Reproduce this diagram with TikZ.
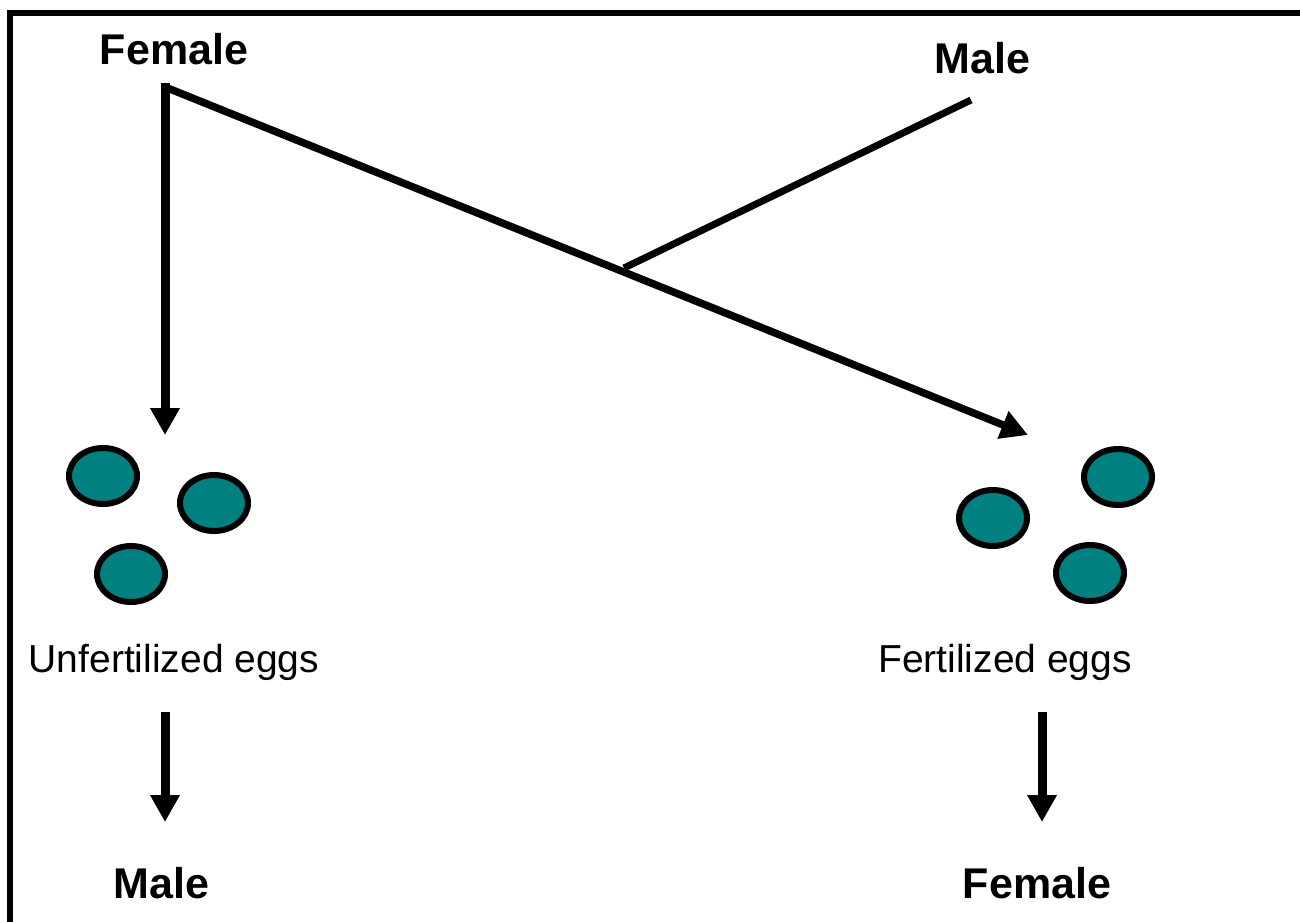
\documentclass[tikz,border=0pt]{standalone}
\usepackage{fontspec}
\setmainfont{Liberation Sans}
\usetikzlibrary{arrows.meta}
\definecolor{eggteal}{HTML}{008080}
\tikzset{
  lbl/.style={anchor=base, inner sep=0pt, font=\fontsize{39}{47}\selectfont},
  blbl/.style={lbl, font=\fontsize{43}{52}\selectfont\bfseries},
  conn/.style={line width=7.5pt, line cap=butt, -{Triangle[length=27pt,width=28pt]}},
  vconn/.style={conn, line width=9pt},
  plain/.style={line width=7pt, line cap=butt},
  egg/.style={draw=black, line width=6pt, fill=eggteal},
  frame/.style={line width=6pt}
}
\begin{document}
\begin{tikzpicture}[x=1pt,y=-1pt]
\useasboundingbox (0,0) rectangle (1300,921);
\clip (0,0) rectangle (1300,921);
% frame (right and bottom edges fall outside the picture)
\draw[frame] (9.5,940) -- (9.5,12.5) -- (1320,12.5);

% labels
\node[blbl] (femTop) at (174,64) {Female};
\node[blbl] (maleTop) at (982.5,73) {Male};
\node[lbl] (unf) at (174,672) {Unfertilized eggs};
\node[lbl] (fert) at (1005,672) {Fertilized eggs};
\node[blbl] (maleOut) at (161.5,898) {Male};
\node[blbl] (femOut) at (1037,898) {Female};

% connector end points
\coordinate (fV) at (165,83);
\coordinate (fD) at (165,87);
\coordinate (unfTip) at (165,435);
\coordinate (fertTip) at (1028,435);
\coordinate (mStart) at (971,100);
\coordinate (mEnd) at (624,268);
\coordinate (lA) at (165,712);
\coordinate (lB) at (165,822);
\coordinate (rA) at (1042,712);
\coordinate (rB) at (1042,822);

% connectors
\draw[vconn] (fV) -- (unfTip);
\draw[conn] (fD) -- (fertTip);
\draw[plain] (mStart) -- (mEnd);
\draw[vconn] (lA) -- (lB);
\draw[vconn] (rA) -- (rB);

% eggs
\draw[egg] (103,476) ellipse [x radius=34pt, y radius=28pt];
\draw[egg] (214,503) ellipse [x radius=34pt, y radius=28pt];
\draw[egg] (131,574) ellipse [x radius=34pt, y radius=28pt];
\draw[egg] (993,518) ellipse [x radius=34pt, y radius=28pt];
\draw[egg] (1118,477) ellipse [x radius=34pt, y radius=28pt];
\draw[egg] (1090,573) ellipse [x radius=34pt, y radius=28pt];
\end{tikzpicture}
\end{document}
